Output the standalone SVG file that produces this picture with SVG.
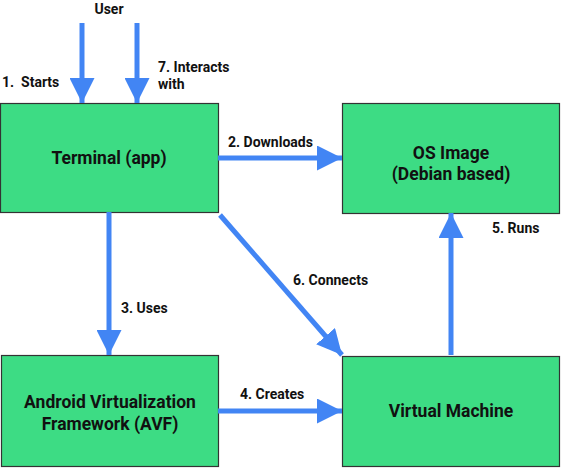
<svg xmlns="http://www.w3.org/2000/svg" width="561" height="469" viewBox="0 0 561 469">
<defs>
<marker id="ah" markerWidth="5" markerHeight="5" refX="5" refY="2.5" orient="auto" markerUnits="strokeWidth">
<path d="M0,0 L5,2.5 L0,5 Z" fill="#4285F4"/>
</marker>
</defs>
<style>
.box{fill:#3DDC84;stroke:#333;stroke-width:1.2}
.nt{font-family:Roboto,"Liberation Sans",sans-serif;font-weight:bold;font-size:17.5px;fill:#111;text-anchor:middle}
.lb{font-family:Roboto,"Liberation Sans",sans-serif;font-weight:bold;font-size:14px;fill:#111}
.c{stroke:#4285F4;stroke-width:5;fill:none;marker-end:url(#ah)}
</style>
<rect width="561" height="469" fill="#fff"/>
<g id="terminal"><rect class="box" x="0.5" y="103.5" width="218" height="109"/><text class="nt" x="109" y="164">Terminal (app)</text></g>
<g id="osimage"><rect class="box" x="342.5" y="103.5" width="217" height="110"/><text class="nt" x="451" y="159">OS Image</text><text class="nt" x="451" y="180">(Debian based)</text></g>
<g id="avf"><rect class="box" x="1.5" y="355.5" width="217" height="111"/><text class="nt" x="110" y="408">Android Virtualization</text><text class="nt" x="110" y="430">Framework (AVF)</text></g>
<g id="vm"><rect class="box" x="342.5" y="356.5" width="217" height="110"/><text class="nt" x="451" y="417">Virtual Machine</text></g>
<g id="connectors">
<line class="c" x1="82" y1="23" x2="82" y2="103"/>
<line class="c" x1="137" y1="23" x2="137" y2="103"/>
<line class="c" x1="218" y1="158" x2="342" y2="158"/>
<line class="c" x1="109" y1="212" x2="109" y2="355"/>
<line class="c" x1="218" y1="411" x2="342" y2="411"/>
<line class="c" x1="451" y1="355" x2="451" y2="213"/>
<line class="c" x1="220" y1="215" x2="342" y2="355"/>
</g>
<g id="labels">
<text class="lb" x="109" y="14" text-anchor="middle">User</text>
<text class="lb" x="2" y="87" xml:space="preserve">1.  Starts</text>
<text class="lb" x="158" y="72">7. Interacts</text>
<text class="lb" x="158" y="89">with</text>
<text class="lb" x="228" y="147">2. Downloads</text>
<text class="lb" x="121" y="313">3. Uses</text>
<text class="lb" x="293" y="285">6. Connects</text>
<text class="lb" x="492" y="233">5. Runs</text>
<text class="lb" x="240" y="399">4. Creates</text>
</g>
</svg>
